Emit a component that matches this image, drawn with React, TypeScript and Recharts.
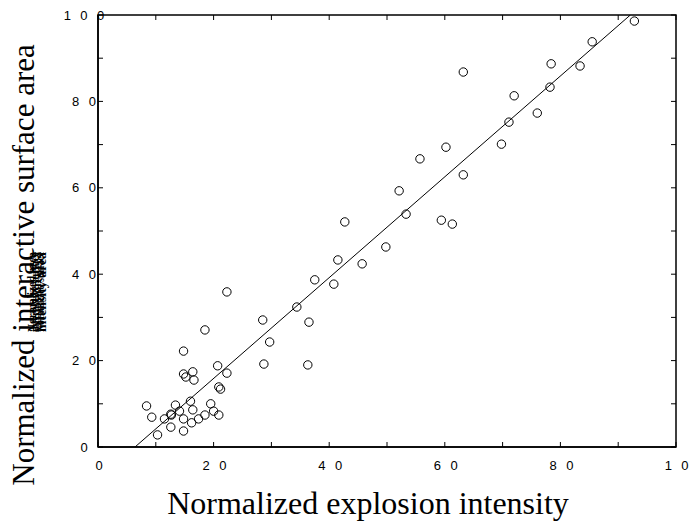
import { ScatterChart, Scatter, XAxis, YAxis, ReferenceArea } from "recharts"

// explosion intensity (x) and interactive surface area (y), normalized
const intensity = [
  92.8, 85.5, 78.4, 83.4, 78.2, 72.0, 76.0, 71.1, 69.8, 63.2,
  60.2, 55.7, 63.2, 52.1, 53.3, 59.4, 61.3, 49.8, 42.7, 41.5,
  45.7, 40.8, 37.5, 22.3, 34.4, 28.5, 36.5, 18.5, 29.7, 28.7,
  36.3, 14.8, 14.8, 15.2, 16.4, 16.6, 20.7, 22.3, 20.9, 21.2,
  16.0, 8.4, 13.4, 19.5, 12.6, 12.7, 14.1, 16.4, 20.0, 20.9,
  9.3, 11.5, 14.8, 17.4, 18.5, 16.2, 12.6, 14.8, 10.3,
]
const surfaceArea = [
  98.6, 93.8, 88.7, 88.2, 83.3, 81.3, 77.3, 75.2, 70.1, 86.8,
  69.4, 66.7, 63.0, 59.3, 53.9, 52.5, 51.6, 46.3, 52.1, 43.3,
  42.4, 37.7, 38.7, 35.9, 32.4, 29.4, 28.9, 27.1, 24.3, 19.2,
  19.0, 22.2, 16.9, 16.2, 17.4, 15.5, 18.8, 17.1, 13.9, 13.4,
  10.6, 9.5, 9.7, 10.0, 7.6, 7.4, 8.3, 8.6, 8.3, 7.4,
  6.9, 6.5, 6.5, 6.5, 7.4, 5.6, 4.6, 3.7, 2.8,
]

// fitted line end points
const fitIntensity = [6.4, 92.1]
const fitArea = [0, 100]

const majorTicks = [0, 20, 40, 60, 80, 100]
const allTicks = [0, 10, 20, 30, 40, 50, 60, 70, 80, 90, 100]

// the overprinted labels stacked on the y title
const overprint = ["Normalized area", "interactive surface", "explosion area", "Normalized surface", "intensity area"]

const points = intensity.map((x, i) => ({ x, y: surfaceArea[i] }))
const fitLine = fitIntensity.map((x, i) => ({ x, y: fitArea[i] }))

const W = 689
const H = 524
const M = { top: 15, right: 13, bottom: 47, left: 68 }
const PLOT_TOP = M.top
const PLOT_RIGHT = W - M.right
const TICK = 5
const LS = 9.5
const sans = "'Liberation Sans', Arial, sans-serif"
const serif = "'Liberation Serif', 'Times New Roman', serif"

function BottomTick(props: any) {
  const { x, y, payload } = props
  const v = payload.value
  const shift = v === 100 ? 9 : 1
  return (
    <g>
      <line x1={x} y1={y} x2={x} y2={y - TICK} stroke="#000" />
      <line x1={x} y1={PLOT_TOP} x2={x} y2={PLOT_TOP + TICK} stroke="#000" />
      {majorTicks.includes(v) && (
        <text x={x + shift + LS / 2} y={y + 18} dy="0.35em" textAnchor="middle" fontFamily={sans} fontSize={13} letterSpacing={LS} fill="#000">
          {v}
        </text>
      )}
    </g>
  )
}

function LeftTick(props: any) {
  const { x, y, payload } = props
  const v = payload.value
  return (
    <g>
      <line x1={x} y1={y} x2={x + TICK} y2={y} stroke="#000" />
      <line x1={PLOT_RIGHT} y1={y} x2={PLOT_RIGHT - TICK} y2={y} stroke="#000" />
      {majorTicks.includes(v) && (
        <text x={x - 14 + LS / 2} y={y} dy="0.35em" textAnchor="middle" fontFamily={sans} fontSize={13} letterSpacing={LS} fill="#000">
          {v}
        </text>
      )}
    </g>
  )
}

function XTitle(props: any) {
  const { viewBox } = props
  return (
    <text x={viewBox.x + viewBox.width / 2 - 19} y={514} textAnchor="middle" fontFamily={serif} fontSize={32} fill="#000">
      Normalized explosion intensity
    </text>
  )
}

function YTitle() {
  return (
    <g>
      <text transform="translate(34,265) rotate(-90)" textAnchor="middle" fontFamily={serif} fontSize={31} fill="#000">
        Normalized interactive surface area
      </text>
      {overprint.map((s, i) => (
        <text
          key={i}
          transform={`translate(${36 + i * 2.5},292) rotate(-90)`}
          textAnchor="middle"
          textLength={80}
          lengthAdjust="spacingAndGlyphs"
          fontFamily={serif}
          fontSize={13}
          fontWeight="bold"
          fill="#000"
        >
          {s}
        </text>
      ))}
    </g>
  )
}

function Circle(props: any) {
  return <circle cx={props.cx} cy={props.cy} r={4.2} fill="none" stroke="#000" strokeWidth={1} />
}

export default function App() {
  return (
    <div style={{ position: "absolute", left: 0, top: 0, background: "#fff" }}>
      <ScatterChart width={W} height={H} margin={M}>
        <XAxis
          type="number"
          dataKey="x"
          domain={[0, 100]}
          ticks={allTicks}
          interval={0}
          tickSize={0}
          tickMargin={0}
          tickLine={false}
          tick={<BottomTick />}
          height={30}
          axisLine={{ stroke: "#000", strokeWidth: 1.5 }}
          label={{ content: <XTitle /> }}
          allowDataOverflow
        />
        <YAxis
          type="number"
          dataKey="y"
          domain={[0, 100]}
          ticks={allTicks}
          interval={0}
          tickSize={0}
          tickMargin={0}
          tickLine={false}
          tick={<LeftTick />}
          width={30}
          axisLine={{ stroke: "#000", strokeWidth: 1.5 }}
          label={{ content: <YTitle /> }}
          allowDataOverflow
        />
        <ReferenceArea x1={0} x2={100} y1={0} y2={100} fill="none" stroke="#000" strokeWidth={1.5} fillOpacity={0} />
        <Scatter data={fitLine} line={{ stroke: "#000", strokeWidth: 1 }} shape={() => <g />} isAnimationActive={false} />
        <Scatter data={points} shape={<Circle />} isAnimationActive={false} />
      </ScatterChart>
    </div>
  )
}
